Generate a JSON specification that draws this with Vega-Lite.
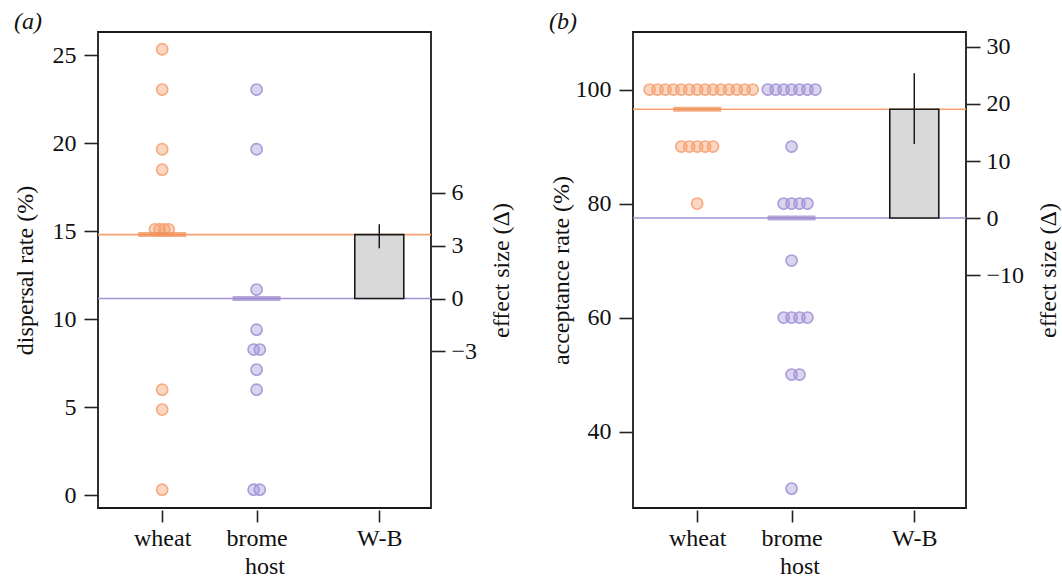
{
  "$schema": "https://vega.github.io/schema/vega-lite/v6.json",
  "background": "white",
  "padding": {"left": 12, "top": 9, "right": 0, "bottom": 0},
  "spacing": 33,
  "datasets": {
    "pointsA": [
      {"host": "wheat", "x": 1, "value": 25.34},
      {"host": "wheat", "x": 1, "value": 23.05},
      {"host": "wheat", "x": 1, "value": 19.66},
      {"host": "wheat", "x": 1, "value": 18.5},
      {"host": "wheat", "x": 0.924, "value": 15.11},
      {"host": "wheat", "x": 0.972, "value": 15.11},
      {"host": "wheat", "x": 1.021, "value": 15.11},
      {"host": "wheat", "x": 1.068, "value": 15.11},
      {"host": "wheat", "x": 1, "value": 6.0},
      {"host": "wheat", "x": 1, "value": 4.87},
      {"host": "wheat", "x": 1, "value": 0.32},
      {"host": "brome", "x": 2, "value": 23.05},
      {"host": "brome", "x": 2, "value": 19.66},
      {"host": "brome", "x": 2, "value": 11.69},
      {"host": "brome", "x": 2, "value": 9.41},
      {"host": "brome", "x": 1.969, "value": 8.28},
      {"host": "brome", "x": 2.034, "value": 8.28},
      {"host": "brome", "x": 2, "value": 7.14},
      {"host": "brome", "x": 2, "value": 6.0},
      {"host": "brome", "x": 1.969, "value": 0.32},
      {"host": "brome", "x": 2.034, "value": 0.32}
    ],
    "meansA": [
      {"host": "wheat", "x": 1, "mean": 14.81},
      {"host": "brome", "x": 2, "mean": 11.18}
    ],
    "effA": [
      {"contrast": "W-B", "x": 3.3, "effect": 3.63, "lo": 2.85, "hi": 4.22}
    ],
    "pointsB": [
      {"host": "wheat", "x": 0.496, "value": 100},
      {"host": "wheat", "x": 0.58, "value": 100},
      {"host": "wheat", "x": 0.664, "value": 100},
      {"host": "wheat", "x": 0.748, "value": 100},
      {"host": "wheat", "x": 0.832, "value": 100},
      {"host": "wheat", "x": 0.916, "value": 100},
      {"host": "wheat", "x": 1.0, "value": 100},
      {"host": "wheat", "x": 1.084, "value": 100},
      {"host": "wheat", "x": 1.168, "value": 100},
      {"host": "wheat", "x": 1.252, "value": 100},
      {"host": "wheat", "x": 1.336, "value": 100},
      {"host": "wheat", "x": 1.42, "value": 100},
      {"host": "wheat", "x": 1.504, "value": 100},
      {"host": "wheat", "x": 1.588, "value": 100},
      {"host": "wheat", "x": 0.832, "value": 90},
      {"host": "wheat", "x": 0.916, "value": 90},
      {"host": "wheat", "x": 1.0, "value": 90},
      {"host": "wheat", "x": 1.084, "value": 90},
      {"host": "wheat", "x": 1.168, "value": 90},
      {"host": "wheat", "x": 1.0, "value": 80},
      {"host": "brome", "x": 1.748, "value": 100},
      {"host": "brome", "x": 1.832, "value": 100},
      {"host": "brome", "x": 1.916, "value": 100},
      {"host": "brome", "x": 2.0, "value": 100},
      {"host": "brome", "x": 2.084, "value": 100},
      {"host": "brome", "x": 2.168, "value": 100},
      {"host": "brome", "x": 2.252, "value": 100},
      {"host": "brome", "x": 2.0, "value": 90},
      {"host": "brome", "x": 1.916, "value": 80},
      {"host": "brome", "x": 2.0, "value": 80},
      {"host": "brome", "x": 2.084, "value": 80},
      {"host": "brome", "x": 2.168, "value": 80},
      {"host": "brome", "x": 2.0, "value": 70},
      {"host": "brome", "x": 1.916, "value": 60},
      {"host": "brome", "x": 2.0, "value": 60},
      {"host": "brome", "x": 2.084, "value": 60},
      {"host": "brome", "x": 2.168, "value": 60},
      {"host": "brome", "x": 2.0, "value": 50},
      {"host": "brome", "x": 2.084, "value": 50},
      {"host": "brome", "x": 2.0, "value": 30}
    ],
    "meansB": [
      {"host": "wheat", "x": 1, "mean": 96.54},
      {"host": "brome", "x": 2, "mean": 77.47}
    ],
    "effB": [
      {"contrast": "W-B", "x": 3.3, "effect": 19.07, "lo": 13.0, "hi": 25.4}
    ]
  },
  "hconcat": [
    {
      "width": 333,
      "height": 476,
      "title": {"text": "(a)", "anchor": "start", "frame": "group", "dx": -84, "offset": -21, "baseline": "alphabetic", "fontStyle": "italic", "fontWeight": "normal", "fontSize": 24, "font": "Liberation Serif", "color": "#111"},
      "layer": [
        {
          "layer": [
            {
              "data": {"name": "meansA"},
              "mark": {"type": "rule", "strokeWidth": 1.6},
              "encoding": {
                "y": {"field": "mean", "type": "quantitative", "scale": {"domain": [-0.72, 26.32], "nice": false, "zero": false},
                  "axis": {"orient": "left", "values": [0, 5, 10, 15, 20, 25], "tickSize": 14, "labelPadding": 8, "title": "dispersal rate (%)", "titlePadding": 15}},
                "stroke": {"field": "host", "type": "nominal", "scale": {"domain": ["wheat", "brome"], "range": ["#F5A273", "#A293D6"]}, "legend": null}
              }
            },
            {
              "mark": {"type": "rule", "color": "#1a1a1a", "strokeWidth": 1.7},
              "encoding": {"x": {"datum": 2.768, "type": "quantitative", "scale": {"domain": [0.373, 3.795], "nice": false, "zero": false}}}
            },
            {
              "data": {"name": "pointsA"},
              "mark": {"type": "circle", "size": 125, "strokeWidth": 1.6, "fillOpacity": 0.42, "strokeOpacity": 0.9},
              "encoding": {
                "x": {"field": "x", "type": "quantitative", "scale": {"domain": [0.373, 3.795], "nice": false, "zero": false},
                  "axis": {"orient": "bottom", "values": [1, 2, 3.3], "labelExpr": "datum.value == 1 ? 'wheat' : datum.value == 2 ? 'brome' : 'W-B'", "tickSize": 12, "offset": 2, "labelPadding": 4, "title": "host", "titlePadding": 4, "labelFlush": false, "labelOverlap": false}},
                "y": {"field": "value", "type": "quantitative", "scale": {"domain": [-0.72, 26.32], "nice": false, "zero": false}},
                "fill": {"field": "host", "type": "nominal", "scale": {"domain": ["wheat", "brome"], "range": ["#F5A06E", "#A898DA"]}, "legend": null},
                "stroke": {"field": "host", "type": "nominal", "scale": {"domain": ["wheat", "brome"], "range": ["#F5A273", "#A293D6"]}, "legend": null}
              }
            },
            {
              "data": {"name": "meansA"},
              "mark": {"type": "tick", "orient": "horizontal", "size": 48, "thickness": 5},
              "encoding": {
                "x": {"field": "x", "type": "quantitative", "scale": {"domain": [0.373, 3.795], "nice": false, "zero": false}},
                "y": {"field": "mean", "type": "quantitative", "scale": {"domain": [-0.72, 26.32], "nice": false, "zero": false}},
                "color": {"field": "host", "type": "nominal", "scale": {"domain": ["wheat", "brome"], "range": ["#EF8C50", "#9B85CC"]}, "legend": null}
              }
            }
          ]
        },
        {
          "data": {"name": "effA"},
          "layer": [
            {
              "mark": {"type": "bar", "size": 49, "fill": "#D9D9D9", "stroke": "#1a1a1a", "strokeWidth": 1.6},
              "encoding": {
                "x": {"field": "x", "type": "quantitative", "scale": {"domain": [0.373, 3.795], "nice": false, "zero": false}},
                "y": {"field": "effect", "type": "quantitative", "scale": {"domain": [-11.9, 15.14], "nice": false, "zero": false},
                  "axis": {"orient": "right", "values": [-3, 0, 3, 6], "tickSize": 14, "labelPadding": 6, "title": "effect size (Δ)", "titleAngle": 270, "titlePadding": 37}},
                "y2": {"datum": 0}
              }
            },
            {
              "mark": {"type": "rule", "color": "#1a1a1a", "strokeWidth": 1.5},
              "encoding": {
                "x": {"field": "x", "type": "quantitative", "scale": {"domain": [0.373, 3.795], "nice": false, "zero": false}},
                "y": {"field": "lo", "type": "quantitative", "scale": {"domain": [-11.9, 15.14], "nice": false, "zero": false}},
                "y2": {"field": "hi"}
              }
            }
          ]
        }
      ],
      "resolve": {"scale": {"y": "independent"}}
    },
    {
      "width": 333,
      "height": 476,
      "title": {"text": "(b)", "anchor": "start", "frame": "group", "dx": -84, "offset": -21, "baseline": "alphabetic", "fontStyle": "italic", "fontWeight": "normal", "fontSize": 24, "font": "Liberation Serif", "color": "#111"},
      "layer": [
        {
          "layer": [
            {
              "data": {"name": "meansB"},
              "mark": {"type": "rule", "strokeWidth": 1.6},
              "encoding": {
                "y": {"field": "mean", "type": "quantitative", "scale": {"domain": [26.6, 110.1], "nice": false, "zero": false},
                  "axis": {"orient": "left", "values": [40, 60, 80, 100], "tickSize": 14, "labelPadding": 8, "title": "acceptance rate (%)", "titlePadding": 2}},
                "stroke": {"field": "host", "type": "nominal", "scale": {"domain": ["wheat", "brome"], "range": ["#F5A273", "#A293D6"]}, "legend": null}
              }
            },
            {
              "mark": {"type": "rule", "color": "#1a1a1a", "strokeWidth": 1.7},
              "encoding": {"x": {"datum": 2.768, "type": "quantitative", "scale": {"domain": [0.373, 3.795], "nice": false, "zero": false}}}
            },
            {
              "data": {"name": "pointsB"},
              "mark": {"type": "circle", "size": 125, "strokeWidth": 1.6, "fillOpacity": 0.42, "strokeOpacity": 0.9},
              "encoding": {
                "x": {"field": "x", "type": "quantitative", "scale": {"domain": [0.373, 3.795], "nice": false, "zero": false},
                  "axis": {"orient": "bottom", "values": [1, 2, 3.3], "labelExpr": "datum.value == 1 ? 'wheat' : datum.value == 2 ? 'brome' : 'W-B'", "tickSize": 12, "offset": 2, "labelPadding": 4, "title": "host", "titlePadding": 4, "labelFlush": false, "labelOverlap": false}},
                "y": {"field": "value", "type": "quantitative", "scale": {"domain": [26.6, 110.1], "nice": false, "zero": false}},
                "fill": {"field": "host", "type": "nominal", "scale": {"domain": ["wheat", "brome"], "range": ["#F5A06E", "#A898DA"]}, "legend": null},
                "stroke": {"field": "host", "type": "nominal", "scale": {"domain": ["wheat", "brome"], "range": ["#F5A273", "#A293D6"]}, "legend": null}
              }
            },
            {
              "data": {"name": "meansB"},
              "mark": {"type": "tick", "orient": "horizontal", "size": 48, "thickness": 5},
              "encoding": {
                "x": {"field": "x", "type": "quantitative", "scale": {"domain": [0.373, 3.795], "nice": false, "zero": false}},
                "y": {"field": "mean", "type": "quantitative", "scale": {"domain": [26.6, 110.1], "nice": false, "zero": false}},
                "color": {"field": "host", "type": "nominal", "scale": {"domain": ["wheat", "brome"], "range": ["#EF8C50", "#9B85CC"]}, "legend": null}
              }
            }
          ]
        },
        {
          "data": {"name": "effB"},
          "layer": [
            {
              "mark": {"type": "bar", "size": 49, "fill": "#D9D9D9", "stroke": "#1a1a1a", "strokeWidth": 1.6},
              "encoding": {
                "x": {"field": "x", "type": "quantitative", "scale": {"domain": [0.373, 3.795], "nice": false, "zero": false}},
                "y": {"field": "effect", "type": "quantitative", "scale": {"domain": [-50.87, 32.63], "nice": false, "zero": false},
                  "axis": {"orient": "right", "values": [-10, 0, 10, 20, 30], "tickSize": 14, "labelPadding": 6, "title": "effect size (Δ)", "titleAngle": 270, "titlePadding": 37}},
                "y2": {"datum": 0}
              }
            },
            {
              "mark": {"type": "rule", "color": "#1a1a1a", "strokeWidth": 1.5},
              "encoding": {
                "x": {"field": "x", "type": "quantitative", "scale": {"domain": [0.373, 3.795], "nice": false, "zero": false}},
                "y": {"field": "lo", "type": "quantitative", "scale": {"domain": [-50.87, 32.63], "nice": false, "zero": false}},
                "y2": {"field": "hi"}
              }
            }
          ]
        }
      ],
      "resolve": {"scale": {"y": "independent"}}
    }
  ],
  "config": {
    "view": {"stroke": "#1a1a1a", "strokeWidth": 1.8},
    "font": "Liberation Serif",
    "axis": {
      "labelFont": "Liberation Serif", "titleFont": "Liberation Serif",
      "labelFontSize": 24, "titleFontSize": 24, "titleFontWeight": "normal",
      "labelColor": "#111", "titleColor": "#111",
      "tickColor": "#222", "tickWidth": 1.6, "domain": false, "grid": false
    }
  }
}
